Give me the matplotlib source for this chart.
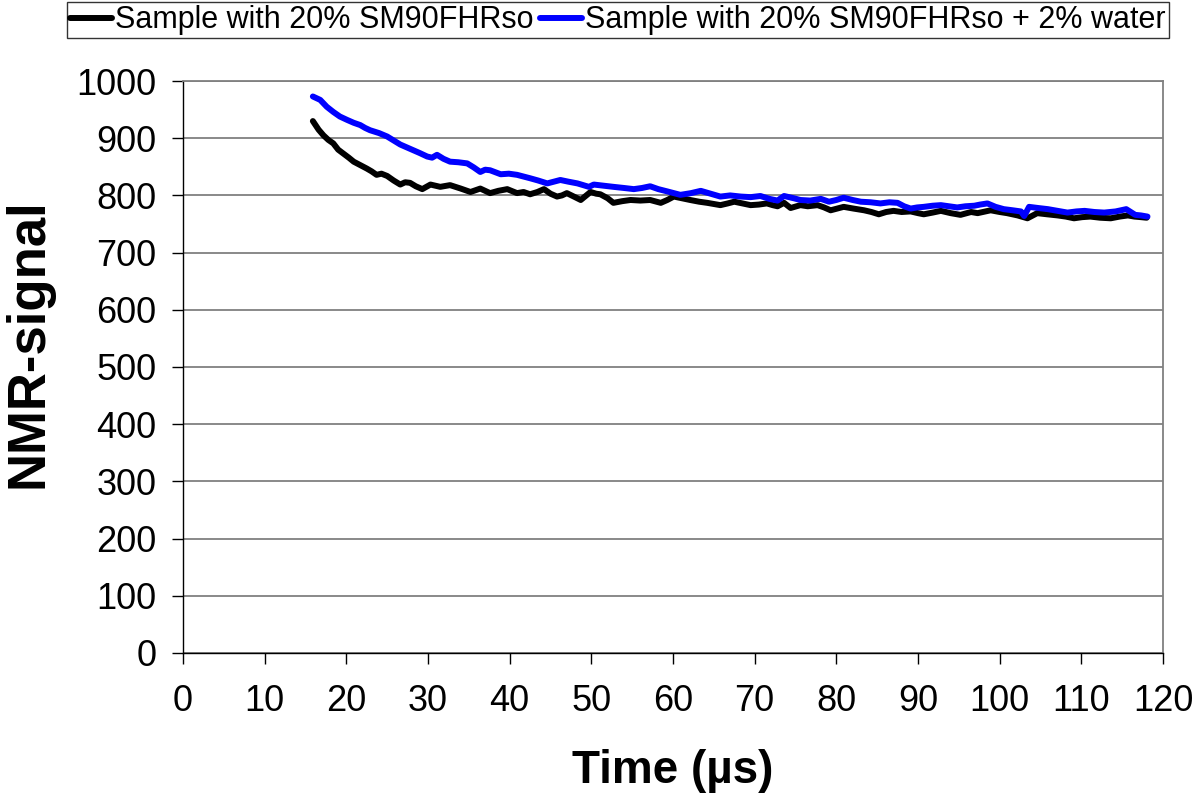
import matplotlib
matplotlib.use('Agg')
import matplotlib.pyplot as plt

# ---- Data ----
t_black = [15.9, 16.6, 17.2, 17.8, 18.4, 19.0, 19.65, 20.3, 20.9, 21.7, 22.5, 23.1,
           23.7, 24.3, 25.0, 25.8, 26.6, 27.2, 27.8, 28.5, 29.3, 30.3, 31.5, 32.7,
           34.0, 35.2, 36.4, 37.6, 38.6, 39.7, 40.9, 41.7, 42.5, 43.4, 44.2, 45.0,
           45.8, 46.4, 47.0, 48.0, 48.7, 49.9, 50.6, 51.1, 52.0, 52.7, 53.8, 54.8,
           56.0, 57.2, 58.5, 59.3, 60.1, 61.1, 62.1, 63.2, 64.2, 65.0, 65.8, 66.7,
           67.5, 68.5, 69.5, 70.5, 71.5, 72.2, 72.8, 73.6, 74.4, 75.6, 76.5, 77.7,
           78.5, 79.3, 80.1, 80.9, 82.1, 83.4, 84.3, 85.2, 86.1, 87.0, 88.0, 89.1,
           90.0, 90.7, 91.8, 92.8, 94.0, 95.2, 96.5, 97.3, 98.9, 100.0, 100.9, 102.2,
           103.4, 104.6, 105.8, 107.1, 108.1, 109.1, 110.1, 111.1, 112.3, 113.6, 114.7,
           115.7, 116.5, 117.3, 118.0]
v_black = [930, 915, 905, 897, 891, 880, 873, 866, 859, 853, 847, 842,
           836, 838, 834, 826, 819, 823, 822, 816, 811, 819, 815, 818,
           812, 806, 812, 804, 808, 811, 804, 806, 802, 806, 811, 803,
           798, 800, 804, 797, 792, 806, 803, 802, 795, 787, 790, 792,
           791, 792, 787, 792, 798, 795, 792, 789, 787, 785, 783, 786,
           789, 786, 783, 784, 786, 783, 781, 787, 778, 783, 781, 783,
           779, 774, 777, 780, 777, 774, 771, 767, 771, 773, 771, 772,
           769, 767, 770, 773, 769, 766, 771, 769, 774, 771, 769, 765,
           760, 769, 767, 765, 763, 760, 762, 763, 761, 760, 763,
           765, 763, 762, 761]

t_blue = [15.9, 16.8, 17.6, 18.4, 19.2, 20.1, 20.9, 21.7, 22.3, 22.9, 24.0, 25.0,
          25.8, 26.6, 27.4, 28.2, 29.0, 29.9, 30.5, 31.1, 31.9, 32.7, 33.7, 34.8,
          35.6, 36.4, 37.0, 37.6, 38.9, 39.9, 40.9, 41.7, 42.5, 43.5, 44.6, 45.4,
          46.2, 47.2, 48.3, 49.7, 50.3, 51.5, 52.7, 54.0, 55.2, 56.2, 57.2, 58.2,
          59.3, 60.1, 60.9, 62.2, 63.4, 64.6, 65.8, 67.0, 68.3, 69.5, 70.7, 71.8,
          72.8, 73.6, 74.8, 75.6, 76.8, 78.1, 79.1, 80.0, 80.9, 82.0, 83.0, 84.2,
          85.4, 86.5, 87.5, 88.3, 89.1, 89.9, 90.7, 91.8, 92.8, 93.8, 94.8, 95.8,
          96.9, 97.6, 98.5, 99.5, 100.5, 101.6, 102.6, 103.0, 103.6, 104.7, 105.9,
          107.1, 108.3, 109.4, 110.4, 111.6, 112.8, 114.2, 115.5, 116.6, 117.3, 118.1]
v_blue = [973, 967, 955, 946, 938, 932, 927, 923, 918, 914, 909, 903,
          896, 889, 884, 879, 874, 868, 866, 871, 864, 859, 858, 856,
          849, 841, 845, 844, 837, 838, 836, 833, 830, 826, 821, 824,
          827, 824, 821, 815, 819, 817, 815, 813, 811, 813, 816, 811,
          807, 804, 801, 804, 808, 803, 798, 800, 798, 797, 799, 794,
          791, 799, 795, 792, 791, 794, 789, 792, 796, 792, 789, 788,
          786, 788, 787, 781, 777, 779, 780, 782, 783, 781, 779, 781,
          782, 784, 786, 780, 776, 774, 772, 764, 780, 778, 776,
          773, 770, 772, 773, 771, 770, 772, 776, 766, 765, 763]

label_black = 'Sample with 20% SM90FHRso'
label_blue = 'Sample with 20% SM90FHRso + 2% water'

x_ticks = list(range(0, 121, 10))
y_ticks = list(range(0, 1001, 100))

plt.rcParams['font.family'] = ['Liberation Sans', 'DejaVu Sans']

fig = plt.figure(figsize=(11.97, 7.96), dpi=100)
ax = fig.add_axes([0.1529, 0.1797, 0.8187, 0.7185])

ax.plot(t_black, v_black, color='black', lw=4.3, label=label_black,
        solid_joinstyle='round', solid_capstyle='round')
ax.plot(t_blue, v_blue, color='#0000FF', lw=4.3, label=label_blue,
        solid_joinstyle='round', solid_capstyle='round')

ax.set_xlim(0, 120)
ax.set_ylim(0, 1000)
ax.set_xticks(x_ticks)
ax.set_yticks(y_ticks)
ax.yaxis.grid(True, color='#808080', lw=1.3)
ax.set_axisbelow(True)

for side in ['top', 'right']:
    ax.spines[side].set_color('#808080')
    ax.spines[side].set_linewidth(1.3)
for side in ['left', 'bottom']:
    ax.spines[side].set_color('black')
    ax.spines[side].set_linewidth(1.0)

ax.tick_params(axis='both', direction='out', length=8, width=1.0,
               labelsize=26)
ax.tick_params(axis='y', pad=11)
ax.tick_params(axis='x', pad=14)

ax.set_xlabel('Time (\u00b5s)', fontsize=33, fontweight='bold', labelpad=22)
ax.set_ylabel('NMR-signal', fontsize=38, fontweight='bold')
ax.yaxis.set_label_coords(-0.132, 0.542)

leg = fig.legend(loc='upper center', bbox_to_anchor=(0.516, 0.997), ncol=2,
                 fontsize=22, frameon=True, fancybox=False, handlelength=1.37,
                 handletextpad=0.1, columnspacing=0.23, borderpad=0.1,
                 borderaxespad=0)
leg.get_frame().set_edgecolor('black')
leg.get_frame().set_linewidth(1.0)

fig.savefig('out.png', dpi=100, facecolor='white')
